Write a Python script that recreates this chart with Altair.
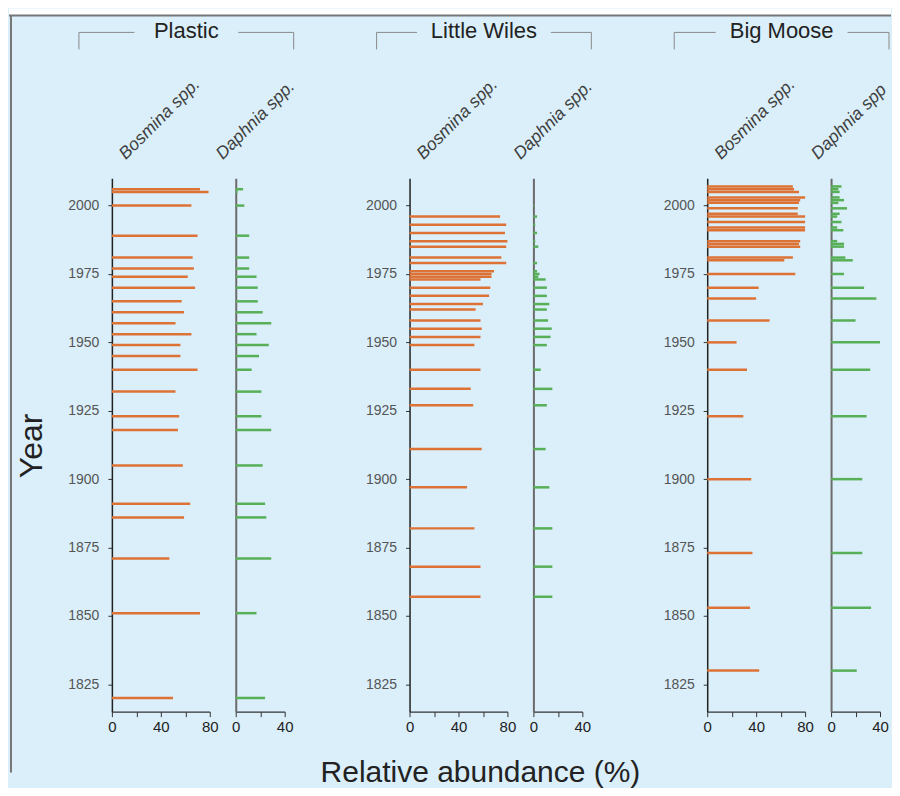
import altair as alt
import pandas as pd

# ---------------- data ----------------
lakes = ["Plastic", "Little Wiles", "Big Moose"]
taxa = ["Bosmina spp.", "Daphnia spp."]

plastic_years = [2006, 2005, 2000, 1989, 1981, 1977, 1974, 1970, 1965, 1961, 1957, 1953,
                 1949, 1945, 1940, 1932, 1923, 1918, 1905, 1891, 1886, 1871, 1851, 1820]
plastic_bosmina = [72, 79, 65, 70, 66, 67, 62, 68, 57, 59, 52, 65,
                   56, 56, 70, 52, 55, 54, 58, 64, 59, 47, 72, 50]
plastic_daphnia = [6, 1.5, 7, 11, 11, 11, 17, 18, 18, 22, 29, 17,
                   27, 19, 13, 21, 21, 29, 22, 24, 25, 29, 17, 24]

wiles_years = [2000, 1996, 1993, 1990, 1987, 1985, 1981, 1979, 1976, 1975, 1974, 1973, 1970, 1967,
               1964, 1962, 1958, 1955, 1952, 1949, 1940, 1933, 1927, 1911, 1897, 1882, 1868, 1857]
wiles_bosmina = [0, 74, 79, 78, 80, 79, 75, 79, 69, 67, 67, 58, 66, 65,
                 60, 54, 58, 59, 58, 53, 58, 50, 52, 59, 47, 53, 58, 58]
wiles_daphnia = [0.7, 3, 1.5, 3, 1.5, 4, 0, 3, 3, 5, 4, 10, 11, 11,
                 13, 11, 12, 15, 14, 11, 6, 15.5, 11, 10, 13, 15.5, 15.5, 15.5]

moose_years = [2007, 2006, 2005, 2003, 2002, 2001, 1999, 1997, 1996, 1994, 1992, 1991, 1987,
               1986, 1985, 1981, 1980, 1975, 1970, 1966, 1958, 1950, 1940, 1923, 1900, 1873, 1853, 1830]
moose_bosmina = [70, 71, 75, 80, 76, 75, 74, 74, 80, 80, 80, 80, 76,
                 75, 76, 70, 63, 72, 42, 40, 51, 24, 32.5, 29.5, 36, 37, 35, 42.5]
moose_daphnia = [8.5, 6, 7, 7, 10.6, 6, 13, 7, 5, 8.5, 5, 10, 5,
                 10.6, 10.6, 11.7, 17.7, 10.6, 27, 37, 20, 40, 32, 29, 25.5, 25.5, 32.7, 21]

year_ticks = [1825, 1850, 1875, 1900, 1925, 1950, 1975, 2000]
bosmina_ticks = [0, 20, 40, 60, 80]
daphnia_ticks = [0, 20, 40]

series = {
    "Plastic": (plastic_years, plastic_bosmina, plastic_daphnia),
    "Little Wiles": (wiles_years, wiles_bosmina, wiles_daphnia),
    "Big Moose": (moose_years, moose_bosmina, moose_daphnia),
}

# ---------------- style / layout ----------------
FONT = "Liberation Sans"
ORANGE = "#DD7236"
GREEN = "#57AF57"
BG = "#DAEFFA"
WB, WD, H = 98, 49, 534
SPACING = 26
SPACER_W = 73
Y_DOMAIN = [1815, 2010]
TITLE_GAP = {"Plastic": 52, "Little Wiles": 67, "Big Moose": 66}
BR_L, BR_R, BR_C = -33, 182, 74.5
BR_Y, BR_Y2 = -146, -129
LABEL_X = {0: 14, 1: -13}

one = alt.Data(values=[{}])


def xaxis(ticks):
    return alt.Axis(values=ticks, labelExpr="datum.value % 40 === 0 ? datum.label : ''",
                    tickSize=5, tickColor="#333", domainColor="#333", domainWidth=1.2,
                    labelFontSize=15, labelColor="#222", labelFont=FONT, labelPadding=3,
                    grid=False, labelFlush=False, labelOverlap=False)


def yaxis(with_labels):
    if with_labels:
        return alt.Axis(values=year_ticks, format="d", tickSize=4, tickColor="#333",
                        domainColor="#222", domainWidth=1.5, labelFontSize=14,
                        labelColor="#555", labelFont=FONT, labelPadding=9, grid=False)
    return alt.Axis(values=year_ticks, labels=False, ticks=False, domainColor="#6b6b6b",
                    domainWidth=2, grid=False)


def text(label, x, y, size, color="#222", angle=0, style="normal"):
    return alt.Chart(one).mark_text(
        text=label, fontSize=size, font=FONT, color=color, angle=angle, fontStyle=style,
        align="center", baseline="middle"
    ).encode(x=alt.value(x), y=alt.value(y))


def taxon_label(label, x, last):
    # the right-most label is cut at the window edge, as in the original figure
    kw = dict(limit=100, ellipsis="\u200b") if last else {}
    return alt.Chart(one).mark_text(
        text=label, fontSize=17.5, font=FONT, color="#3e3e3e", angle=315, fontStyle="italic",
        align="left", baseline="alphabetic", **kw
    ).encode(x=alt.value(x), y=alt.value(-18))


def seg(x1, x2, y1, y2, color="#8a8a8a", w=1.0):
    return alt.Chart(one).mark_rule(color=color, strokeWidth=w).encode(
        x=alt.value(x1), x2=alt.value(x2), y=alt.value(y1), y2=alt.value(y2))


def panel(lake, k, idx):
    years, bos, daph = series[lake]
    vals = bos if k == 0 else daph
    df = pd.DataFrame({"year": years, "v": vals})
    xmax = 80 if k == 0 else 40
    width = WB if k == 0 else WD
    ticks = bosmina_ticks if k == 0 else daphnia_ticks
    color = ORANGE if k == 0 else GREEN
    bars = alt.Chart(df).mark_bar(orient="horizontal", size=2.5, color=color).encode(
        x=alt.X("v:Q", scale=alt.Scale(domain=[0, xmax], nice=False, padding=0),
                axis=xaxis(ticks), title=None),
        y=alt.Y("year:Q", scale=alt.Scale(domain=Y_DOMAIN, nice=False, zero=False, padding=0),
                axis=yaxis(k == 0), title=None),
    )
    layers = [bars, taxon_label(taxa[k], LABEL_X[k], k == 1 and idx == 2)]
    if k == 0:
        g = TITLE_GAP[lake]
        layers += [
            text(lake, BR_C, BR_Y - 1, 22),
            seg(BR_L, BR_C - g, BR_Y, BR_Y),
            seg(BR_L, BR_L, BR_Y, BR_Y2),
            seg(BR_C + g, BR_R, BR_Y, BR_Y),
            seg(BR_R, BR_R, BR_Y, BR_Y2),
        ]
    if k == 0 and idx == 0:
        layers = [
            alt.Chart(one).mark_rect(color="white").encode(
                x=alt.value(-103), x2=alt.value(780), y=alt.value(-170), y2=alt.value(-163)),
            seg(-103, 780, -163, -163, color="#777", w=2),
            seg(-101, -101, -163, 595, color="#777", w=2),
        ] + layers + [text("Year", -80, 268, 32, angle=270)]
    if k == 0 and idx == 1:
        layers.append(text("Relative abundance (%)", 71, 595, 30))
    return alt.layer(*layers).properties(width=width, height=H)


def spacer():
    return alt.Chart(one).mark_point(opacity=0).encode(
        x=alt.value(0), y=alt.value(0)).properties(width=SPACER_W, height=H)


panels = []
for i, lake in enumerate(lakes):
    if i > 0:
        panels.append(spacer())
    panels.append(panel(lake, 0, i))
    panels.append(panel(lake, 1, i))

chart = alt.hconcat(*panels, spacing=SPACING, bounds="flush").properties(
    background=BG,
    padding={"left": 0, "top": 0, "right": 0, "bottom": 0},
).configure_view(stroke=None)

chart.save("out.html", embed_options={"renderer": "svg", "actions": False})
